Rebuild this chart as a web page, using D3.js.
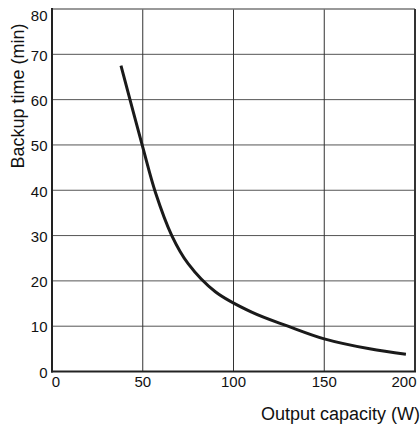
<!DOCTYPE html>
<html>
<head>
<meta charset="utf-8">
<script src="https://cdn.jsdelivr.net/npm/d3@7"></script>
<style>
  body { margin: 0; background: #fff; }
  text { font-family: "Liberation Sans", Arial, sans-serif; fill: #111; }
</style>
</head>
<body>
<svg width="420" height="425"></svg>
<script>
// curve: output capacity (W) -> backup time (min)
var capacity = [38, 50, 57, 66, 75, 90, 110, 130, 150, 175, 195];
var backup = [67.5, 49.5, 39.5, 30, 23.8, 17.6, 13.1, 10, 7.2, 5, 3.8];
var xTicks = [0, 50, 100, 150, 200];
var yTicks = [0, 10, 20, 30, 40, 50, 60, 70, 80];

var svg = d3.select("svg");
var plotL = 52, plotR = 415, plotT = 9, plotB = 371.5;

var x = d3.scaleLinear().domain([0, 200]).range([plotL, plotR]);
var y = d3.scaleLinear().domain([0, 80]).range([plotB, plotT]);

// grid
svg.append("g")
  .selectAll("line")
  .data(yTicks.slice(1, -1))
  .enter().append("line")
    .attr("x1", plotL).attr("x2", plotR)
    .attr("y1", function(d) { return y(d); })
    .attr("y2", function(d) { return y(d); })
    .attr("stroke", "#555").attr("stroke-width", 1);

svg.append("g")
  .selectAll("line")
  .data(xTicks.slice(1, -1))
  .enter().append("line")
    .attr("y1", plotT).attr("y2", plotB)
    .attr("x1", function(d) { return x(d); })
    .attr("x2", function(d) { return x(d); })
    .attr("stroke", "#333").attr("stroke-width", 1);

// frame
svg.append("line").attr("x1", plotL).attr("x2", plotR).attr("y1", plotT).attr("y2", plotT)
  .attr("stroke", "#777").attr("stroke-width", 1.5);
svg.append("line").attr("x1", plotR).attr("x2", plotR).attr("y1", plotT).attr("y2", plotB)
  .attr("stroke", "#333").attr("stroke-width", 2);
svg.append("line").attr("x1", plotL).attr("x2", plotL).attr("y1", plotT - 1).attr("y2", plotB + 1)
  .attr("stroke", "#222").attr("stroke-width", 2);
svg.append("line").attr("x1", plotL - 1).attr("x2", plotR + 1).attr("y1", plotB).attr("y2", plotB)
  .attr("stroke", "#222").attr("stroke-width", 2);

// tick labels (top one nudged down like the original)
svg.append("g")
  .selectAll("text")
  .data(yTicks)
  .enter().append("text")
    .attr("x", plotL - 4.5)
    .attr("y", function(d) { return d === 80 ? y(d) + 7 : y(d) + 1; })
    .attr("dy", "0.35em")
    .attr("text-anchor", "end")
    .attr("font-size", 15)
    .text(function(d) { return d; });

svg.append("g")
  .selectAll("text")
  .data(xTicks)
  .enter().append("text")
    .attr("x", function(d) { return d === 0 ? x(d) + 4 : d === 200 ? x(d) - 11 : x(d); })
    .attr("y", 387)
    .attr("text-anchor", "middle")
    .attr("font-size", 15)
    .text(function(d) { return d; });

// axis titles
svg.append("text")
  .attr("transform", "translate(24,96) rotate(-90)")
  .attr("text-anchor", "middle")
  .attr("font-size", 18)
  .text("Backup time (min)");

svg.append("text")
  .attr("x", 420)
  .attr("y", 420)
  .attr("text-anchor", "end")
  .attr("font-size", 18)
  .text("Output capacity (W)");

// curve
var line = d3.line()
  .x(function(d, i) { return x(capacity[i]); })
  .y(function(d, i) { return y(backup[i]); })
  .curve(d3.curveCatmullRom.alpha(0.5));

svg.append("path")
  .datum(backup)
  .attr("d", line)
  .attr("fill", "none")
  .attr("stroke", "#1a1a1a")
  .attr("stroke-width", 3);
</script>
</body>
</html>
